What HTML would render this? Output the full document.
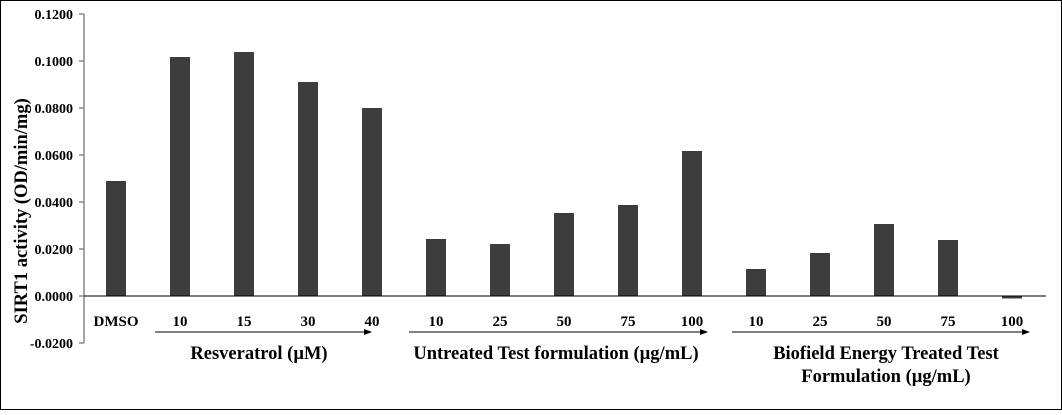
<!DOCTYPE html>
<html><head><meta charset="utf-8"><style>
html,body{margin:0;padding:0;background:#fff}
svg text{font-family:"Liberation Serif",serif;font-weight:bold;fill:#000}
</style></head><body>
<svg width="1062" height="410" viewBox="0 0 1062 410" xmlns="http://www.w3.org/2000/svg">
<rect x="0.5" y="0.5" width="1061" height="409" fill="#fff" stroke="#000" stroke-width="1"/>
<defs><marker id="ar" markerWidth="8" markerHeight="8" refX="7" refY="4" orient="auto" markerUnits="userSpaceOnUse"><path d="M0,1 L8,4 L0,7 Z" fill="#000"/></marker></defs>
<g stroke="#888" stroke-width="1.5">
<line x1="84" y1="14" x2="84" y2="343"/>
<line x1="79" y1="14" x2="84" y2="14"/><line x1="79" y1="61" x2="84" y2="61"/><line x1="79" y1="108" x2="84" y2="108"/><line x1="79" y1="155" x2="84" y2="155"/><line x1="79" y1="202" x2="84" y2="202"/><line x1="79" y1="249" x2="84" y2="249"/><line x1="79" y1="296" x2="84" y2="296"/><line x1="79" y1="343" x2="84" y2="343"/>
</g>
<g font-size="14" text-anchor="end">
<text x="73" y="19">0.1200</text><text x="73" y="66">0.1000</text><text x="73" y="113">0.0800</text><text x="73" y="160">0.0600</text><text x="73" y="207">0.0400</text><text x="73" y="254">0.0200</text><text x="73" y="301">0.0000</text><text x="73" y="348">-0.0200</text>
</g>
<text transform="translate(27,211) rotate(-90)" font-size="18.5" text-anchor="middle">SIRT1 activity  (OD/min/mg)</text>
<g fill="#3c3c3c">
<rect x="106" y="181" width="20" height="115"/>
<rect x="170" y="57" width="20" height="239"/>
<rect x="234" y="52" width="20" height="244"/>
<rect x="298" y="82" width="20" height="214"/>
<rect x="362" y="108" width="20" height="188"/>
<rect x="426" y="239" width="20" height="57"/>
<rect x="490" y="244" width="20" height="52"/>
<rect x="554" y="213" width="20" height="83"/>
<rect x="618" y="205" width="20" height="91"/>
<rect x="682" y="151" width="20" height="145"/>
<rect x="746" y="269" width="20" height="27"/>
<rect x="810" y="253" width="20" height="43"/>
<rect x="874" y="224" width="20" height="72"/>
<rect x="938" y="240" width="20" height="56"/>
<rect x="1002" y="296" width="20" height="2.5"/>
</g>
<line x1="84" y1="296" x2="1046" y2="296" stroke="#000" stroke-width="1"/>
<g font-size="15" text-anchor="middle">
<text x="116" y="326">DMSO</text><text x="180" y="326">10</text><text x="244" y="326">15</text><text x="308" y="326">30</text><text x="372" y="326">40</text>
<text x="436" y="326">10</text><text x="500" y="326">25</text><text x="564" y="326">50</text><text x="628" y="326">75</text><text x="692" y="326">100</text>
<text x="756" y="326">10</text><text x="820" y="326">25</text><text x="884" y="326">50</text><text x="948" y="326">75</text><text x="1012" y="326">100</text>
</g>
<g stroke="#000" stroke-width="1">
<line x1="155" y1="332" x2="371" y2="332" marker-end="url(#ar)"/>
<line x1="409" y1="332" x2="707" y2="332" marker-end="url(#ar)"/>
<line x1="732" y1="332" x2="1029" y2="332" marker-end="url(#ar)"/>
</g>
<g font-size="18.5" text-anchor="middle">
<text x="259" y="359">Resveratrol (µM)</text>
<text x="556" y="359">Untreated Test formulation (µg/mL)</text>
<text x="886" y="359">Biofield Energy Treated Test</text>
<text x="886" y="382">Formulation (µg/mL)</text>
</g>
</svg>
</body></html>
